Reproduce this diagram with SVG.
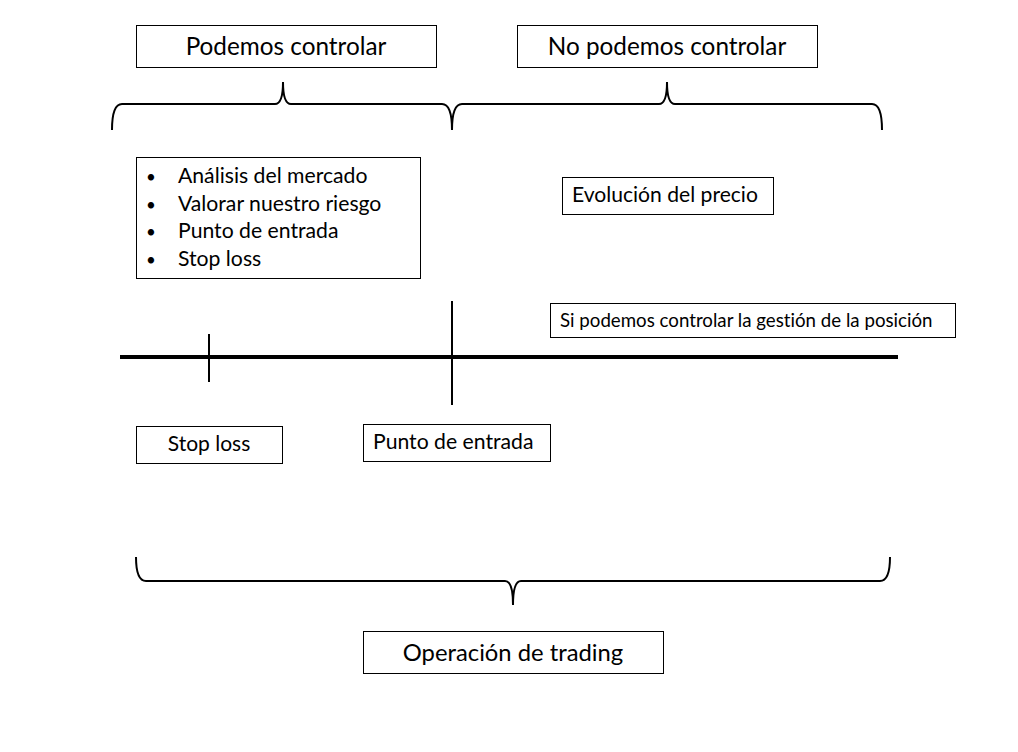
<svg xmlns="http://www.w3.org/2000/svg" width="1018" height="752" viewBox="0 0 1018 752">
<style>
.box{fill:#fff;stroke:#000;stroke-width:1}
.t{font-family:Lato,"Liberation Sans",sans-serif;fill:#000;font-variant-ligatures:none;font-feature-settings:"liga" 0}
.brace{fill:none;stroke:#000;stroke-width:2}
</style>
<rect width="1018" height="752" fill="#fff"/>
<g id="connectors">
<path class="brace" d="M112,130 Q112,104 122,104 L275,104 Q283,104 283,82 Q283,104 291,104 L442,104 Q452,104 452,130"/>
<path class="brace" d="M452,130 Q452,104 462,104 L659,104 Q667,104 667,82 Q667,104 675,104 L872,104 Q882,104 882,130"/>
<path class="brace" d="M136,557 Q136,581 146,581 L505,581 Q513,581 513,605 Q513,581 521,581 L880,581 Q890,581 890,557"/>
<line x1="120" y1="357" x2="898" y2="357" stroke="#000" stroke-width="4"/>
<line x1="209" y1="334" x2="209" y2="382" stroke="#000" stroke-width="2"/>
<line x1="452" y1="301" x2="452" y2="405" stroke="#000" stroke-width="2"/>
</g>
<g id="podemos"><rect class="box" x="136.5" y="25.5" width="300" height="42"/><text class="t" x="286" y="55" font-size="24.3" text-anchor="middle">Podemos controlar</text></g>
<g id="nopodemos"><rect class="box" x="517.5" y="25.5" width="300" height="42"/><text class="t" x="667" y="55" font-size="24.3" text-anchor="middle">No podemos controlar</text></g>
<g id="lista"><rect class="box" x="136.5" y="157.5" width="284" height="121"/>
<g class="t" font-size="21.2">
<text x="146" y="183" font-size="17">•</text><text x="178" y="183">Análisis del mercado</text>
<text x="146" y="211" font-size="17">•</text><text x="178" y="211">Valorar nuestro riesgo</text>
<text x="146" y="238" font-size="17">•</text><text x="178" y="238">Punto de entrada</text>
<text x="146" y="266" font-size="17">•</text><text x="178" y="266">Stop loss</text>
</g></g>
<g id="evolucion"><rect class="box" x="562.5" y="177.5" width="211" height="37"/><text class="t" x="572" y="202" font-size="21.1">Evolución del precio</text></g>
<g id="gestion"><rect class="box" x="550.5" y="303.5" width="405" height="34"/><text class="t" x="560" y="327" font-size="18.7">Si podemos controlar la gestión de la posición</text></g>
<g id="stoploss"><rect class="box" x="136.5" y="426.5" width="146" height="37"/><text class="t" x="209" y="451" font-size="21" text-anchor="middle">Stop loss</text></g>
<g id="entrada"><rect class="box" x="363.5" y="424.5" width="187" height="37"/><text class="t" x="373" y="449" font-size="21.2">Punto de entrada</text></g>
<g id="operacion"><rect class="box" x="363.5" y="631.5" width="300" height="42"/><text class="t" x="513" y="661" font-size="23.8" text-anchor="middle">Operación de trading</text></g>
</svg>
